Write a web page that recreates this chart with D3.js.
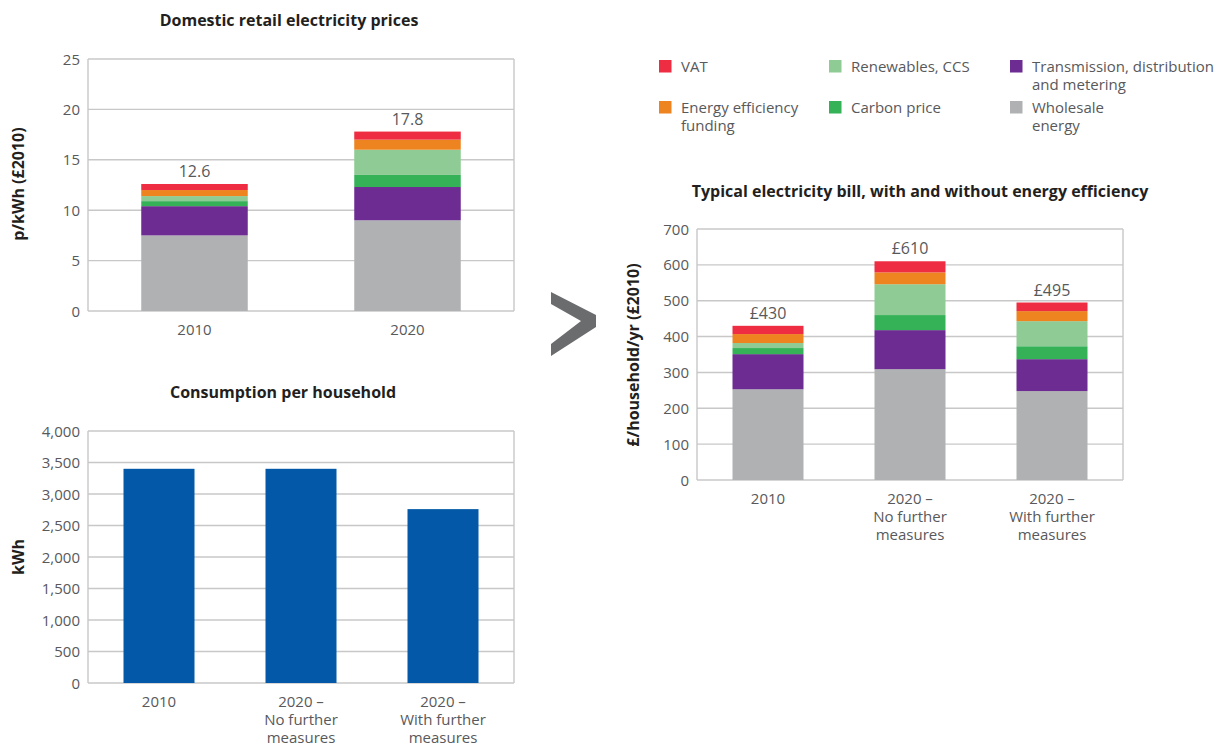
<!DOCTYPE html>
<html>
<head>
<meta charset="utf-8">
<script src="https://cdn.jsdelivr.net/npm/d3@7"></script>
<style>
  html, body { margin: 0; padding: 0; background: #fff; }
  svg { display: block; font-family: "Open Sans", "Noto Sans", sans-serif; }
</style>
</head>
<body>
<svg id="chart" width="1227" height="747"></svg>
<script>
// ---- data ----
const componentNames = ["Wholesale energy", "Transmission, distribution and metering", "Carbon price", "Renewables, CCS", "Energy efficiency funding", "VAT"];
const componentColors = ["#afb1b2", "#6c2c91", "#35b257", "#8fcb94", "#ee8420", "#ee2d42"];

// Domestic retail electricity prices, p/kWh (£2010)
const priceYears = ["2010", "2020"];
const priceWholesale = [7.5, 9.0];
const priceTransmission = [2.9, 3.3];
const priceCarbon = [0.5, 1.2];
const priceRenewables = [0.5, 2.5];
const priceEfficiency = [0.6, 1.0];
const priceVAT = [0.6, 0.8];
const priceTicks = [0, 5, 10, 15, 20, 25];

// Consumption per household, kWh
const scenarios = ["2010", "2020 –\nNo further\nmeasures", "2020 –\nWith further\nmeasures"];
const consumption = [3400, 3400, 2760];
const consumptionTicks = [0, 500, 1000, 1500, 2000, 2500, 3000, 3500, 4000];

// Typical electricity bill, £/household/yr (£2010)
const billWholesale = [253, 309, 248];
const billTransmission = [98, 109, 89];
const billCarbon = [17, 42, 36];
const billRenewables = [14, 86, 70];
const billEfficiency = [25, 33, 28];
const billVAT = [23, 31, 24];
const billTicks = [0, 100, 200, 300, 400, 500, 600, 700];

// ---- styles ----
const fontFamily = '"Open Sans", "Noto Sans", sans-serif';
const gridColor = "#c8c8c8";
const tickColor = "#58595b";
const titleColor = "#231f20";
const fontSize = 15;

const svg = d3.select("#chart");

function buildRows(categories, seriesList) {
  return categories.map((c, i) => {
    const row = { category: c };
    componentNames.forEach((n, k) => { row[n] = seriesList[k][i]; });
    return row;
  });
}

function frame(g, x, y, ticks, fmt) {
  const [x0, x1] = x.range();
  // horizontal gridlines (the top one closes the frame)
  g.append("g").selectAll("line").data(ticks).join("line")
    .attr("x1", x0).attr("x2", x1)
    .attr("y1", d => y(d)).attr("y2", d => y(d))
    .attr("stroke", gridColor).attr("stroke-width", 1.4);
  // side borders
  const [yb, yt] = y.range();
  [x0, x1].forEach(xx => {
    g.append("line").attr("x1", xx).attr("x2", xx).attr("y1", yt).attr("y2", yb)
      .attr("stroke", gridColor).attr("stroke-width", 1.4);
  });
  // y tick labels via d3 axis
  const ax = d3.axisLeft(y).tickValues(ticks).tickFormat(fmt).tickSize(0).tickPadding(8);
  const axG = g.append("g").attr("transform", `translate(${x0},0)`).call(ax)
    .attr("font-family", fontFamily).attr("font-size", fontSize);
  axG.select(".domain").remove();
  axG.selectAll("text").attr("fill", tickColor).attr("dy", "0.34em");
}

function xLabels(g, x, y, cats) {
  const ax = d3.axisBottom(x).tickSize(0).tickFormat("");
  const axG = g.append("g").attr("transform", `translate(0,${y.range()[0]})`).call(ax)
    .attr("font-family", fontFamily).attr("font-size", fontSize);
  axG.select(".domain").remove();
  axG.selectAll(".tick").each(function (d) {
    const t = d3.select(this).append("text")
      .attr("fill", tickColor).attr("text-anchor", "middle");
    d.split("\n").forEach((line, i) => {
      t.append("tspan").attr("x", 0).attr("y", 23.5 + i * 18.3).text(line);
    });
  });
}

function title(text, cx, baseline) {
  svg.append("text").attr("x", cx).attr("y", baseline).attr("text-anchor", "middle")
    .attr("fill", titleColor).style("font-size", "16px").style("font-weight", "700")
    .text(text);
}

function yTitle(text, x, cy) {
  svg.append("text").attr("transform", `translate(${x},${cy}) rotate(-90)`)
    .attr("text-anchor", "middle").attr("fill", titleColor)
    .style("font-size", "16px").style("font-weight", "700").text(text);
}

function stackedChart(opts) {
  const g = svg.append("g");
  const x = d3.scaleBand().domain(opts.categories).range(opts.xRange)
    .paddingInner(0.5).paddingOuter(0.25);
  const y = d3.scaleLinear().domain([0, d3.max(opts.ticks)]).range(opts.yRange);
  frame(g, x, y, opts.ticks, opts.tickFormat);

  const rows = buildRows(opts.categories, opts.series);
  const stacked = d3.stack().keys(componentNames)(rows);
  g.append("g").selectAll("g").data(stacked).join("g")
    .attr("fill", (d, i) => componentColors[i])
    .selectAll("rect").data(d => d).join("rect")
    .attr("x", d => x(d.data.category))
    .attr("width", x.bandwidth())
    .attr("y", d => y(d[1]))
    .attr("height", d => y(d[0]) - y(d[1]));

  const totals = rows.map(r => d3.sum(componentNames, n => r[n]));
  g.append("g").selectAll("text").data(rows).join("text")
    .attr("x", d => x(d.category) + x.bandwidth() / 2)
    .attr("y", (d, i) => y(totals[i]) - 7)
    .attr("text-anchor", "middle").attr("fill", tickColor)
    .style("font-size", "16px")
    .text((d, i) => opts.valueFormat(totals[i]));

  xLabels(g, x, y, opts.categories);
}

// ---- chart 1: prices ----
stackedChart({
  categories: priceYears,
  series: [priceWholesale, priceTransmission, priceCarbon, priceRenewables, priceEfficiency, priceVAT],
  ticks: priceTicks,
  tickFormat: d3.format("d"),
  valueFormat: d3.format(".1f"),
  xRange: [88, 514],
  yRange: [311, 59]
});
title("Domestic retail electricity prices", 289, 26);
yTitle("p/kWh (£2010)", 24, 184);

// ---- chart 2: consumption ----
{
  const g = svg.append("g");
  const x = d3.scaleBand().domain(scenarios).range([88, 514]).paddingInner(0.5).paddingOuter(0.25);
  const y = d3.scaleLinear().domain([0, 4000]).range([683, 431]);
  frame(g, x, y, consumptionTicks, d3.format(","));
  g.append("g").selectAll("rect").data(scenarios).join("rect")
    .attr("x", d => x(d)).attr("width", x.bandwidth())
    .attr("y", (d, i) => y(consumption[i]))
    .attr("height", (d, i) => y(0) - y(consumption[i]))
    .attr("fill", "#0359a7");
  xLabels(g, x, y, scenarios);
}
title("Consumption per household", 283, 398);
yTitle("kWh", 24, 557);

// ---- chart 3: bills ----
stackedChart({
  categories: scenarios,
  series: [billWholesale, billTransmission, billCarbon, billRenewables, billEfficiency, billVAT],
  ticks: billTicks,
  tickFormat: d3.format("d"),
  valueFormat: v => "£" + d3.format("d")(v),
  xRange: [697, 1123],
  yRange: [480, 229]
});
title("Typical electricity bill, with and without energy efficiency", 920, 197);
yTitle("£/household/yr (£2010)", 639, 355);

// ---- legend ----
const legendItems = [
  { name: "VAT", lines: ["VAT"], col: 0, row: 0 },
  { name: "Energy efficiency funding", lines: ["Energy efficiency", "funding"], col: 0, row: 1 },
  { name: "Renewables, CCS", lines: ["Renewables, CCS"], col: 1, row: 0 },
  { name: "Carbon price", lines: ["Carbon price"], col: 1, row: 1 },
  { name: "Transmission, distribution and metering", lines: ["Transmission, distribution", "and metering"], col: 2, row: 0 },
  { name: "Wholesale energy", lines: ["Wholesale", "energy"], col: 2, row: 1 }
];
const colX = [659, 829, 1010];
const rowY = [72, 113];
const legend = svg.append("g");
legendItems.forEach(item => {
  const color = componentColors[componentNames.indexOf(item.name)];
  const gx = colX[item.col], gy = rowY[item.row];
  legend.append("rect").attr("x", gx).attr("y", gy - 12).attr("width", 12.5).attr("height", 12.5)
    .attr("fill", color);
  const t = legend.append("text").attr("fill", tickColor).style("font-size", fontSize + "px");
  item.lines.forEach((line, i) => {
    t.append("tspan").attr("x", gx + 22).attr("y", gy + i * 18).text(line);
  });
});

// ---- chevron between the panels ----
const chevron = [[551, 292], [596, 315], [596, 327], [551, 356], [551, 344], [581, 321], [551, 304]];
svg.append("path").attr("d", d3.line()(chevron) + "Z").attr("fill", "#6b6c6e");
</script>
</body>
</html>
